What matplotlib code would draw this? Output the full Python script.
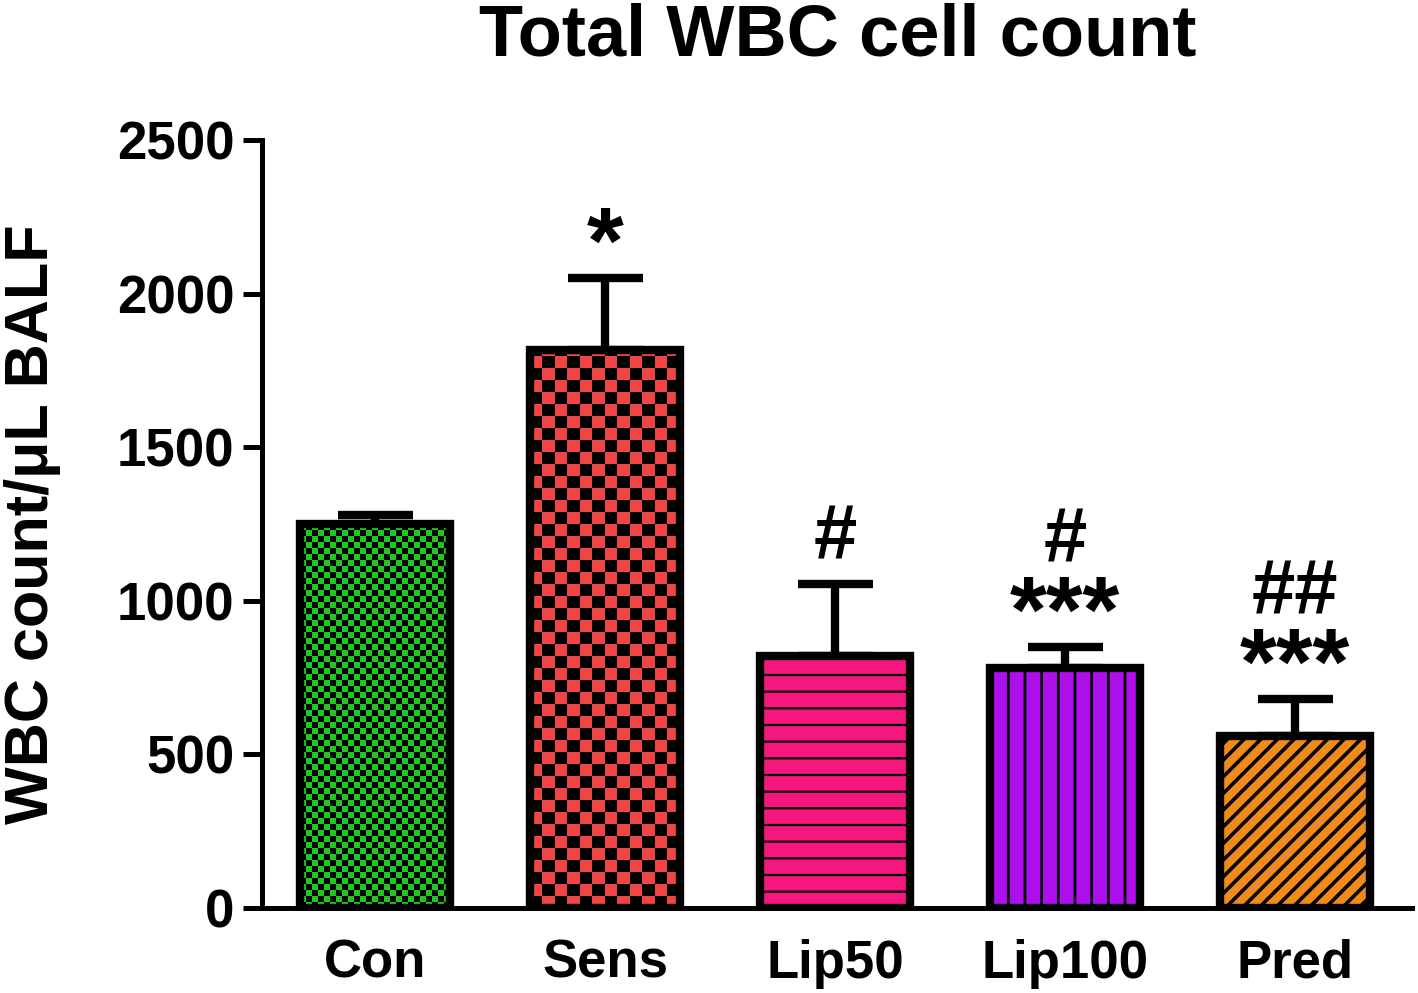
import numpy as np
import matplotlib.pyplot as plt
from matplotlib import colors

plt.rcParams['font.family'] = ['Liberation Sans', 'DejaVu Sans']
plt.rcParams['font.weight'] = 'bold'

groups = ['Con', 'Sens', 'Lip50', 'Lip100', 'Pred']
means = [1250, 1815, 820, 780, 560]
errs = [30, 235, 235, 70, 120]
fills = ['#1ec81e', '#f04545', '#f5177f', '#ad10ec', '#f08a1a']
hatches = [None, None, '-', '|', '//']
hatch_lw = [1, 1, 1.6, 2.0, 2.6]
checker = [6, 12, None, None, None]   # checker cell size in px
marks_hash = ['', '', '#', '#', '##']
marks_star = ['', '*', '', '***', '***']

fig = plt.figure(figsize=(14.18, 9.93), dpi=100)
ax = fig.add_axes([0.185, 0.0856, 0.811, 0.7734])

x = np.arange(len(groups))
w = 0.65
ax.set_xlim(-0.49, 4.51)
ax.set_ylim(0, 2500)

# px per data unit (for checker sizes)
px_x = 0.811 * 1418 / 5.0
px_y = 0.7734 * 993 / 2500.0

ax.errorbar(x, means, yerr=[[0] * 5, errs], fmt='none', ecolor='black',
            elinewidth=6, capsize=27, capthick=6, zorder=1)

for i in range(len(groups)):
    with plt.rc_context({'hatch.linewidth': hatch_lw[i]}):
        b = ax.bar(x[i], means[i], w, color=fills[i], edgecolor='black',
                   linewidth=0, hatch=hatches[i], zorder=2)[0]
        if hasattr(b, 'set_hatch_linewidth'):
            b.set_hatch_linewidth(hatch_lw[i])
    if checker[i]:
        nx = int(round(w * px_x / checker[i]))
        ny = int(np.ceil(means[i] * px_y / checker[i]))
        grid = (np.add.outer(np.arange(ny), np.arange(nx)) % 2).astype(float)
        cm = colors.ListedColormap(['black', fills[i]])
        hgt = ny * checker[i] / px_y
        im = ax.imshow(grid, cmap=cm, interpolation='nearest', aspect='auto',
                       extent=(x[i] - w / 2, x[i] + w / 2, 0, hgt),
                       origin='lower', zorder=2.5)
        im.set_clip_path(b)
    ax.bar(x[i], means[i], w, facecolor='none', edgecolor='black',
           linewidth=6, zorder=3)

ax.set_xlim(-0.49, 4.51)
ax.set_ylim(0, 2500)

for i in range(len(groups)):
    top = means[i] + errs[i]
    if marks_star[i]:
        ax.text(x[i], top - 48, marks_star[i], ha='center', va='bottom',
                fontsize=68, fontweight='bold', zorder=4)
    if marks_hash[i]:
        off = 222 if marks_star[i] else 28
        ax.text(x[i], top + off, marks_hash[i], ha='center', va='bottom',
                fontsize=56, fontweight='bold', zorder=4)

ax.set_yticks([0, 500, 1000, 1500, 2000, 2500])
ax.set_xticks(x)
ax.set_xticklabels(groups)
ax.tick_params(axis='y', length=14, width=3.6, labelsize=38, pad=6)
ax.tick_params(axis='x', length=0, labelsize=38, pad=22)
for s in ['top', 'right']:
    ax.spines[s].set_visible(False)
for s in ['left', 'bottom']:
    ax.spines[s].set_linewidth(3.6)

ax.set_ylabel('WBC count/μL BALF', fontsize=44, fontweight='bold', labelpad=40)
ax.set_title('Total WBC cell count', fontsize=52, fontweight='bold', pad=61)

fig.savefig('out.png', dpi=100)
